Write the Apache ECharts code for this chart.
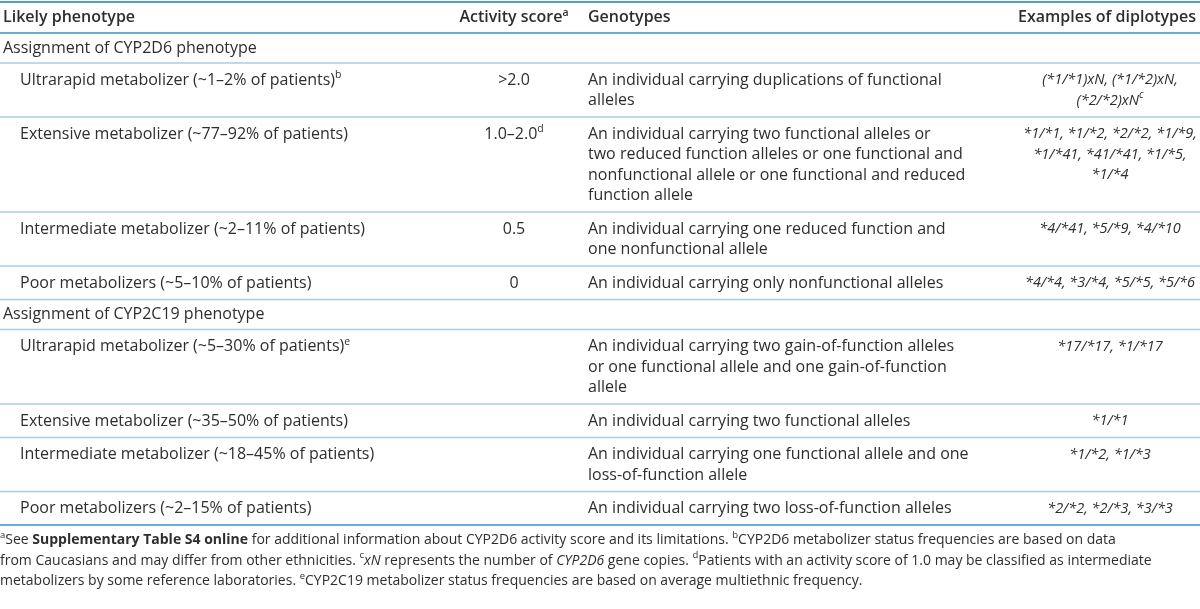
<!DOCTYPE html>
<html><head><meta charset="utf-8">
<script src="https://cdn.jsdelivr.net/npm/echarts@6/dist/echarts.min.js"></script>
<style>html,body{margin:0;padding:0;background:#fff}#c{width:1200px;height:609px}</style>
</head><body><div id="c"></div>
<script>
// ---- table content ----
const headers = ['Likely phenotype', 'Activity score{hsup|a}', 'Genotypes', 'Examples of diplotypes'];
const sections = ['Assignment of CYP2D6 phenotype', 'Assignment of CYP2C19 phenotype'];
const rowSection = [0, 0, 0, 0, 1, 1, 1, 1];
const phenotypes = [
  'Ultrarapid metabolizer (~1–2% of patients){sup|b}',
  'Extensive metabolizer (~77–92% of patients)',
  'Intermediate metabolizer (~2–11% of patients)',
  'Poor metabolizers (~5–10% of patients)',
  'Ultrarapid metabolizer (~5–30% of patients){sup|e}',
  'Extensive metabolizer (~35–50% of patients)',
  'Intermediate metabolizer (~18–45% of patients)',
  'Poor metabolizers (~2–15% of patients)'
];
const activityScores = ['>2.0', '1.0–2.0{sup|d}', '0.5', '0', '', '', '', ''];
const genotypes = [
  ['An individual carrying duplications of functional', 'alleles'],
  ['An individual carrying two functional alleles or', 'two reduced function alleles or one functional and', 'nonfunctional allele or one functional and reduced', 'function allele'],
  ['An individual carrying one reduced function and', 'one nonfunctional allele'],
  ['An individual carrying only nonfunctional alleles'],
  ['An individual carrying two gain-of-function alleles', 'or one functional allele and one gain-of-function', 'allele'],
  ['An individual carrying two functional alleles'],
  ['An individual carrying one functional allele and one', 'loss-of-function allele'],
  ['An individual carrying two loss-of-function alleles']
];
const diplotypes = [
  ['(*1/*1)xN, (*1/*2)xN,', '(*2/*2)xN{isup|c}'],
  ['*1/*1, *1/*2, *2/*2, *1/*9,', '*1/*41, *41/*41, *1/*5,', '*1/*4'],
  ['*4/*41, *5/*9, *4/*10'],
  ['*4/*4, *3/*4, *5/*5, *5/*6'],
  ['*17/*17, *1/*17'],
  ['*1/*1'],
  ['*1/*2, *1/*3'],
  ['*2/*2, *2/*3, *3/*3']
];
const footnotes = [
  '{fsup|a}See {fb|Supplementary Table S4 online} for additional information about CYP2D6 activity score and its limitations. {fsup|b}CYP2D6 metabolizer status frequencies are based on data',
  'from Caucasians and may differ from other ethnicities. {fsup|c}{fi|xN} represents the number of {fi|CYP2D6} gene copies. {fsup|d}Patients with an activity score of 1.0 may be classified as intermediate',
  'metabolizers by some reference laboratories. {fsup|e}CYP2C19 metabolizer status frequencies are based on average multiethnic frequency.'
];

// ---- layout / style ----
const FONT = 'Open Sans';
const INK = '#2e2e2e';
const FS = 16, IFS = 14.5, LH = 20.5, FFS = 14, FLH = 20.5;
const HEAD_H = 31, SEC_H = 30, ROW_H = 33.5;
const X = {sec: 3, pheno: 20, score: 514, geno: 588, dip: 1110, dipHead: 1196, right: 1200};
function tok(size, extra) {
  return Object.assign({fontFamily: FONT, fontSize: size, fill: INK}, extra || {});
}
const rich = {
  sup: tok(10.5, {verticalAlign: 'top', lineHeight: 12}),
  hsup: tok(10.5, {verticalAlign: 'top', lineHeight: 12, fontWeight: 600}),
  isup: tok(10, {verticalAlign: 'top', lineHeight: 12, fontStyle: 'italic'}),
  fsup: tok(9.5, {verticalAlign: 'top', lineHeight: 11}),
  fb: tok(FFS, {fontWeight: 'bold', lineHeight: FLH}),
  fi: tok(FFS, {fontStyle: 'italic', lineHeight: FLH})
};

// build rows
const rows = [];
let y = 2;
function pushRow(r, h) { r.top = y; r.bottom = y + h; y += h; rows.push(r); }
pushRow({kind: 'header', cells: [
  {x: X.sec, text: headers[0], align: 'left'},
  {x: X.score, text: headers[1], align: 'center'},
  {x: X.geno, text: headers[2], align: 'left'},
  {x: X.dipHead, text: headers[3], align: 'right'}
]}, HEAD_H);
phenotypes.forEach((p, i) => {
  if (i === 0 || rowSection[i] !== rowSection[i - 1]) {
    pushRow({kind: 'section', cells: [{x: X.sec, text: sections[rowSection[i]], align: 'left'}]}, SEC_H);
  }
  const n = Math.max(genotypes[i].length, diplotypes[i].length, 1);
  const last = i === phenotypes.length - 1;
  pushRow({kind: last ? 'last' : 'data', cells: [
    {x: X.pheno, text: p, align: 'left'},
    {x: X.score, text: activityScores[i], align: 'center'},
    {x: X.geno, text: genotypes[i].join('\n'), align: 'left'},
    {x: X.dip, text: diplotypes[i].join('\n'), align: 'center', italic: true}
  ]}, ROW_H + LH * (n - 1));
});
const footTop = y;

const chart = echarts.init(document.getElementById('c'), null, {renderer: 'canvas'});
chart.setOption({
  animation: false,
  backgroundColor: '#fff',
  grid: {left: 0, right: 0, top: 0, bottom: 0},
  xAxis: {type: 'value', min: 0, max: 1200, show: false},
  yAxis: {type: 'value', min: 0, max: 609, inverse: true, show: false},
  series: [{
    type: 'custom',
    coordinateSystem: 'cartesian2d',
    clip: false,
    data: rows.map((r, i) => [i, r.top, r.bottom]).concat([[rows.length, footTop, 609]]),
    renderItem: function (params, api) {
      const idx = params.dataIndex;
      const children = [];
      const xl = api.coord([0, 0])[0], xr = api.coord([X.right, 0])[0];
      if (idx === rows.length) {
        const p = api.coord([0, footTop]);
        children.push({type: 'text', x: p[0], y: p[1] + 5, style: {
          text: footnotes.join('\n'), fontFamily: FONT, fontSize: FFS, fill: INK,
          align: 'left', verticalAlign: 'top', lineHeight: FLH, rich: rich
        }});
        return {type: 'group', children: children};
      }
      const r = rows[idx];
      const bold = r.kind === 'header';
      const pad = r.kind === 'data' || r.kind === 'last' ? 7 : (r.kind === 'section' ? 5 : 5.5);
      r.cells.forEach(c => {
        if (!c.text) return;
        const p = api.coord([c.x, r.top]);
        const size = c.italic ? IFS : FS;
        children.push({type: 'text', x: p[0], y: p[1] + pad, style: {
          text: c.text, fontFamily: FONT, fontSize: size, fill: INK,
          fontWeight: bold ? 600 : 'normal', fontStyle: c.italic ? 'italic' : 'normal',
          align: c.align, verticalAlign: 'top', lineHeight: LH, rich: rich
        }});
      });
      if (idx === 0) {
        const t = api.coord([0, r.top])[1];
        children.push({type: 'line', shape: {x1: xl, y1: t, x2: xr, y2: t}, style: {stroke: '#4f9cc4', lineWidth: 2}});
      }
      const b = api.coord([0, r.bottom])[1];
      const strong = r.kind === 'header' || r.kind === 'last';
      children.push({type: 'line', shape: {x1: xl, y1: b, x2: xr, y2: b},
        style: {stroke: strong ? '#6aaed0' : '#a3cfe3', lineWidth: strong ? 2 : 1.5}});
      return {type: 'group', children: children};
    }
  }]
});
</script></body></html>
